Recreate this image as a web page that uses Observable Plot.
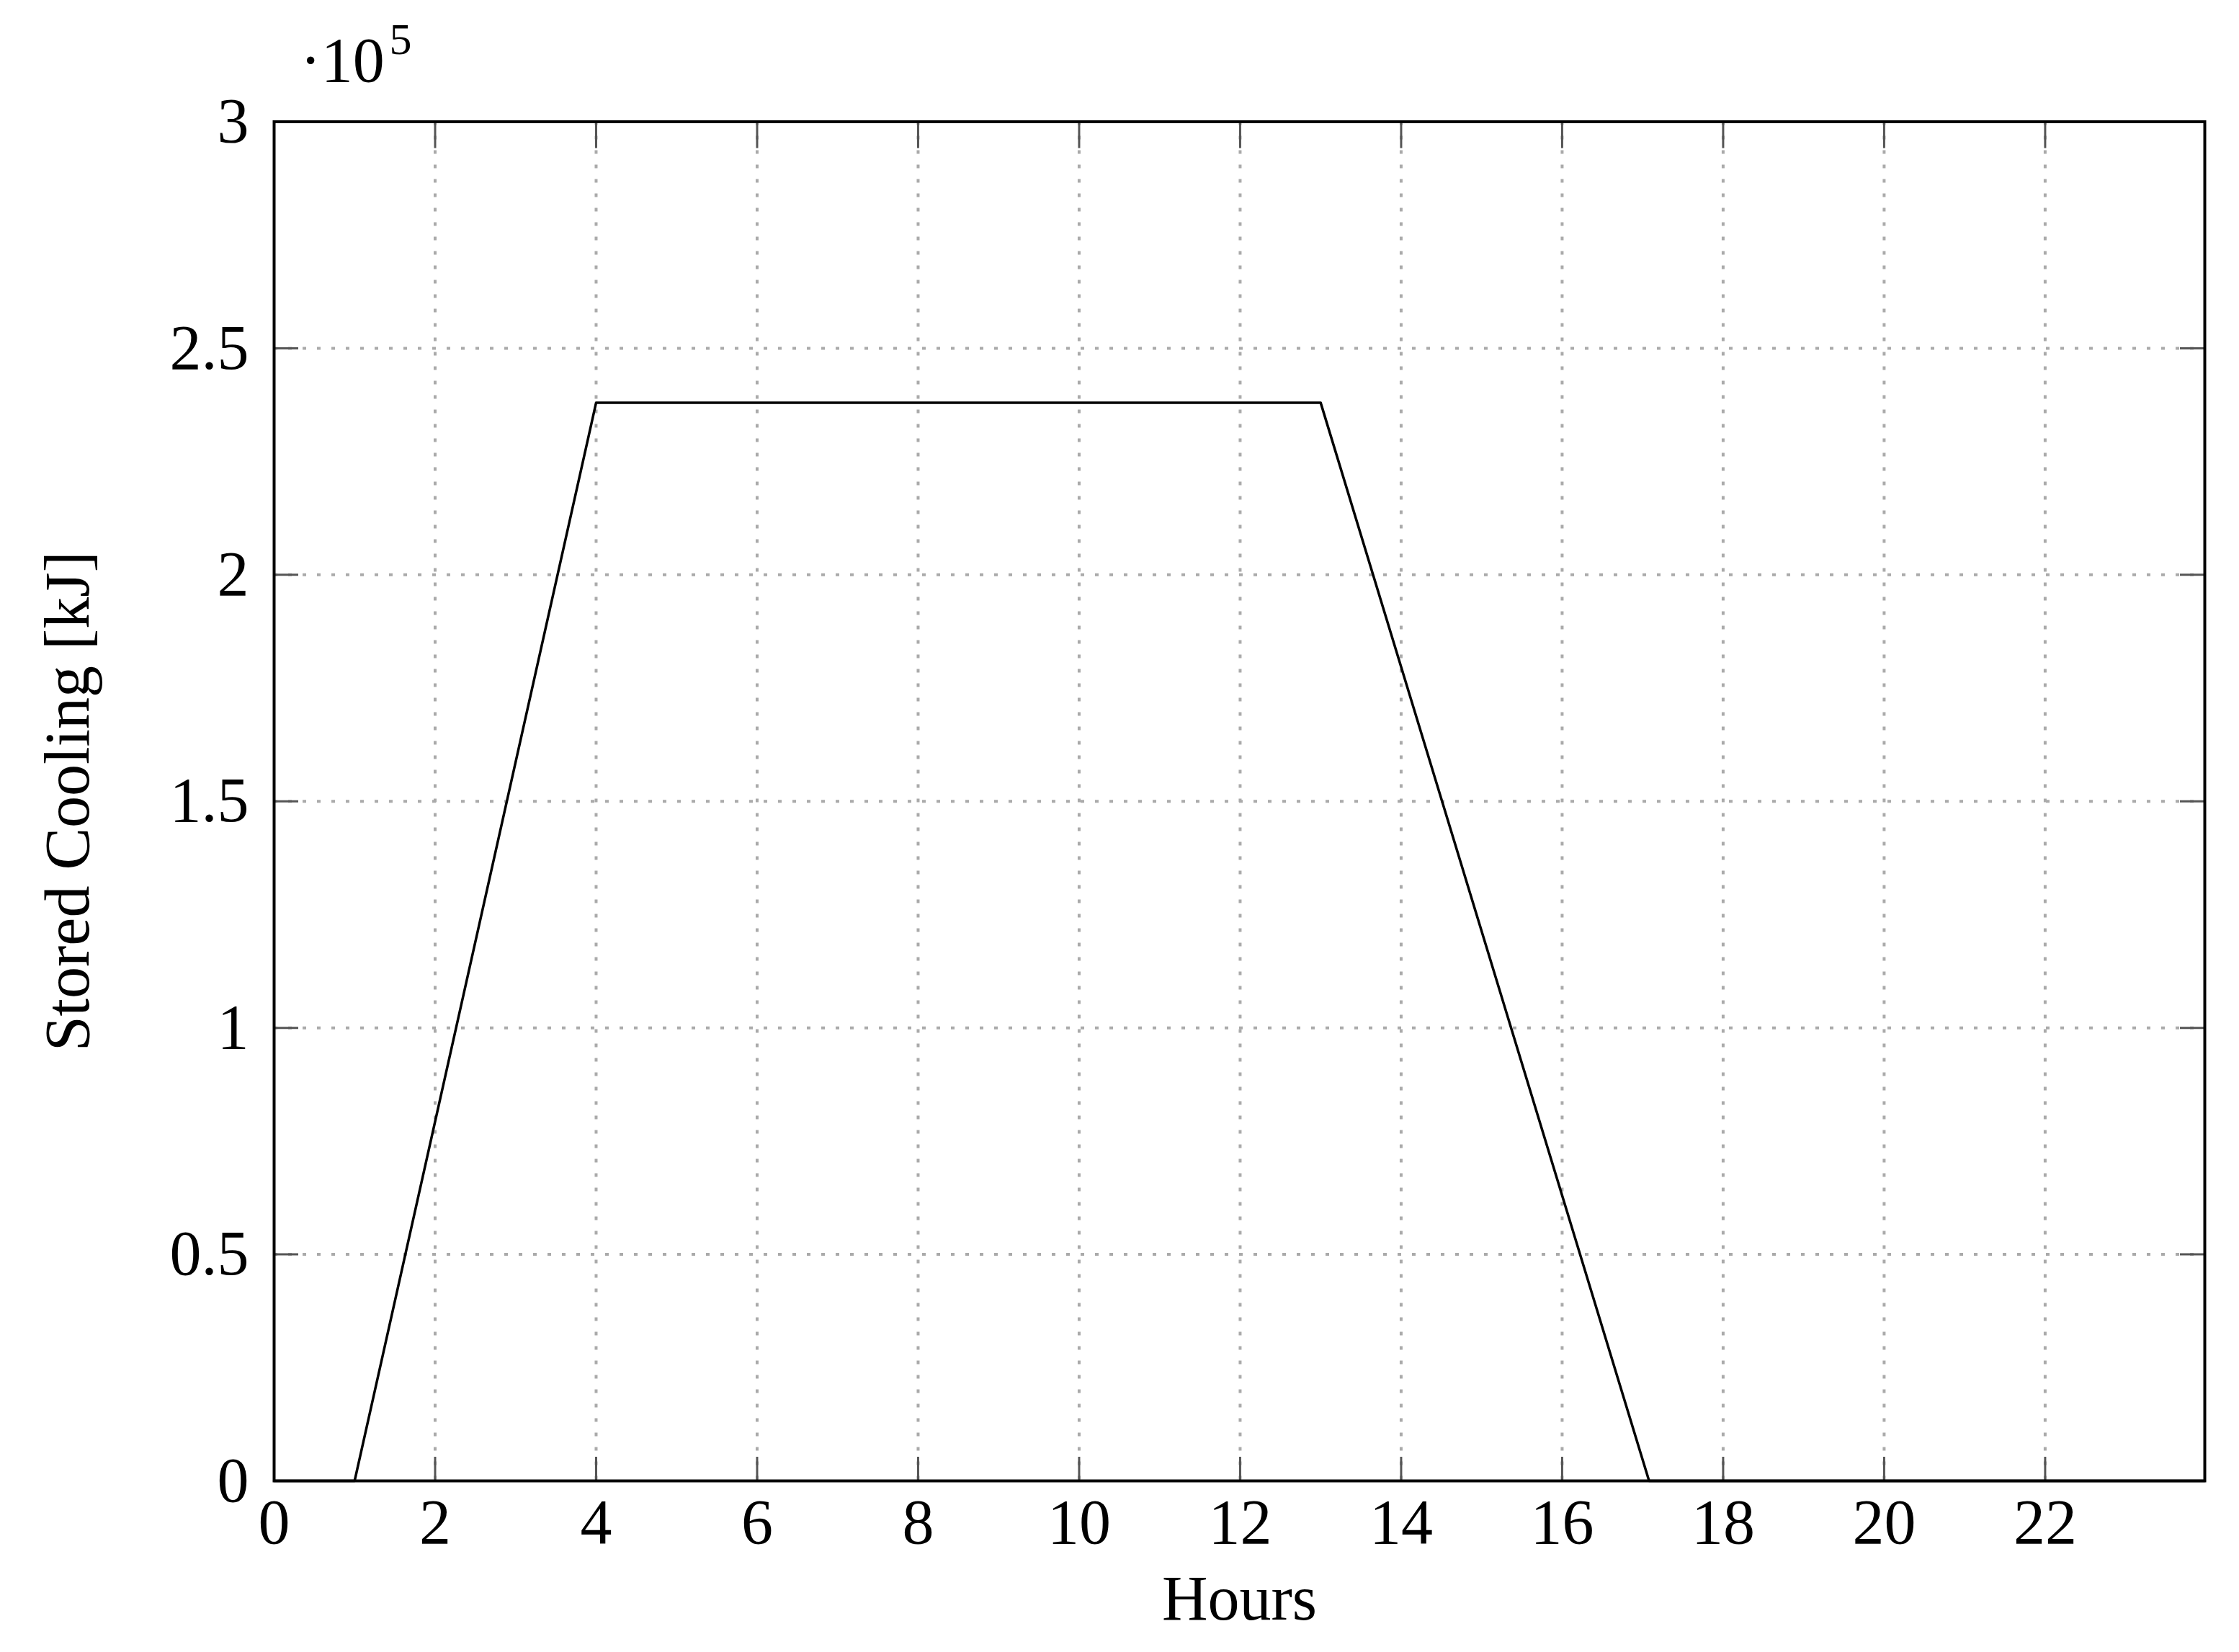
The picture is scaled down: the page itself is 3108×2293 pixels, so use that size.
<!DOCTYPE html>
<html>
<head>
<meta charset="utf-8">
<script src="https://cdn.jsdelivr.net/npm/d3@7"></script>
<script src="https://cdn.jsdelivr.net/npm/@observablehq/plot@0.6"></script>
<style>
  html, body { margin: 0; padding: 0; background: #fff; }
  #chart svg { display: block; }
</style>
</head>
<body>
<div id="chart"></div>
<script>
// ---- data ----
const hours  = [0, 1, 4, 13, 17.08, 23.983];
const stored = [0, 0, 238000, 238000, 0, 0];   // kJ
const xTicks = [0, 2, 4, 6, 8, 10, 12, 14, 16, 18, 20, 22];
const yTicks = [0, 50000, 100000, 150000, 200000, 250000, 300000];
const xDomain = [0, 23.983];
const yDomain = [0, 300000];

const data = hours.map((h, i) => ({hour: h, value: stored[i]}));

const W = 3108, H = 2293;
const mL = 380, mR = 48, mT = 168.5, mB = 238;
const fw = W - mL - mR, fh = H - mT - mB;

const gridStyle = {stroke: "#aaaaaa", strokeOpacity: 1, strokeWidth: 4, strokeDasharray: "5,15"};

const chart = Plot.plot({
  width: W,
  height: H,
  marginLeft: mL, marginRight: mR, marginTop: mT, marginBottom: mB,
  style: {fontFamily: "'Liberation Serif', 'DejaVu Serif', serif", fontSize: "88px", color: "#000", background: "#fff"},
  x: {domain: xDomain},
  y: {domain: yDomain},
  marks: [
    Plot.gridX(xTicks.filter(d => d > 0), gridStyle),
    Plot.gridY(yTicks.filter(d => d > 0 && d < 300000), gridStyle),
    // inward ticks on all four sides
    Plot.tickX(xTicks, {x: d => d, insetTop: fh - 33, stroke: "#555", strokeWidth: 3}),
    Plot.tickX(xTicks, {x: d => d, insetBottom: fh - 37, stroke: "#555", strokeWidth: 3}),
    Plot.tickY(yTicks, {y: d => d, insetRight: fw - 34, stroke: "#555", strokeWidth: 3}),
    Plot.tickY(yTicks, {y: d => d, insetLeft: fw - 34, stroke: "#555", strokeWidth: 3}),
    Plot.axisX({ticks: xTicks, tickSize: 0, tickPadding: 24, tickFormat: d => String(d),
      label: "Hours", labelAnchor: "center", labelArrow: "none", labelOffset: 192}),
    Plot.axisY({ticks: yTicks, tickSize: 0, tickPadding: 35, tickFormat: d => String(d / 1e5),
      label: "Stored Cooling [kJ]", labelAnchor: "center", labelArrow: "none", labelOffset: 320}),
    Plot.line(data, {x: "hour", y: "value", stroke: "#000", strokeWidth: 3.5}),
    Plot.frame({stroke: "#000", strokeWidth: 4}),
    Plot.text(["·10"], {text: d => d, frameAnchor: "top-left", textAnchor: "start", lineAnchor: "bottom", dx: 36, dy: -56, fontSize: 88}),
    Plot.text(["5"], {text: d => d, frameAnchor: "top-left", textAnchor: "start", lineAnchor: "bottom", dx: 160, dy: -94, fontSize: 62})
  ]
});
document.getElementById("chart").appendChild(chart);
</script>
</body>
</html>
